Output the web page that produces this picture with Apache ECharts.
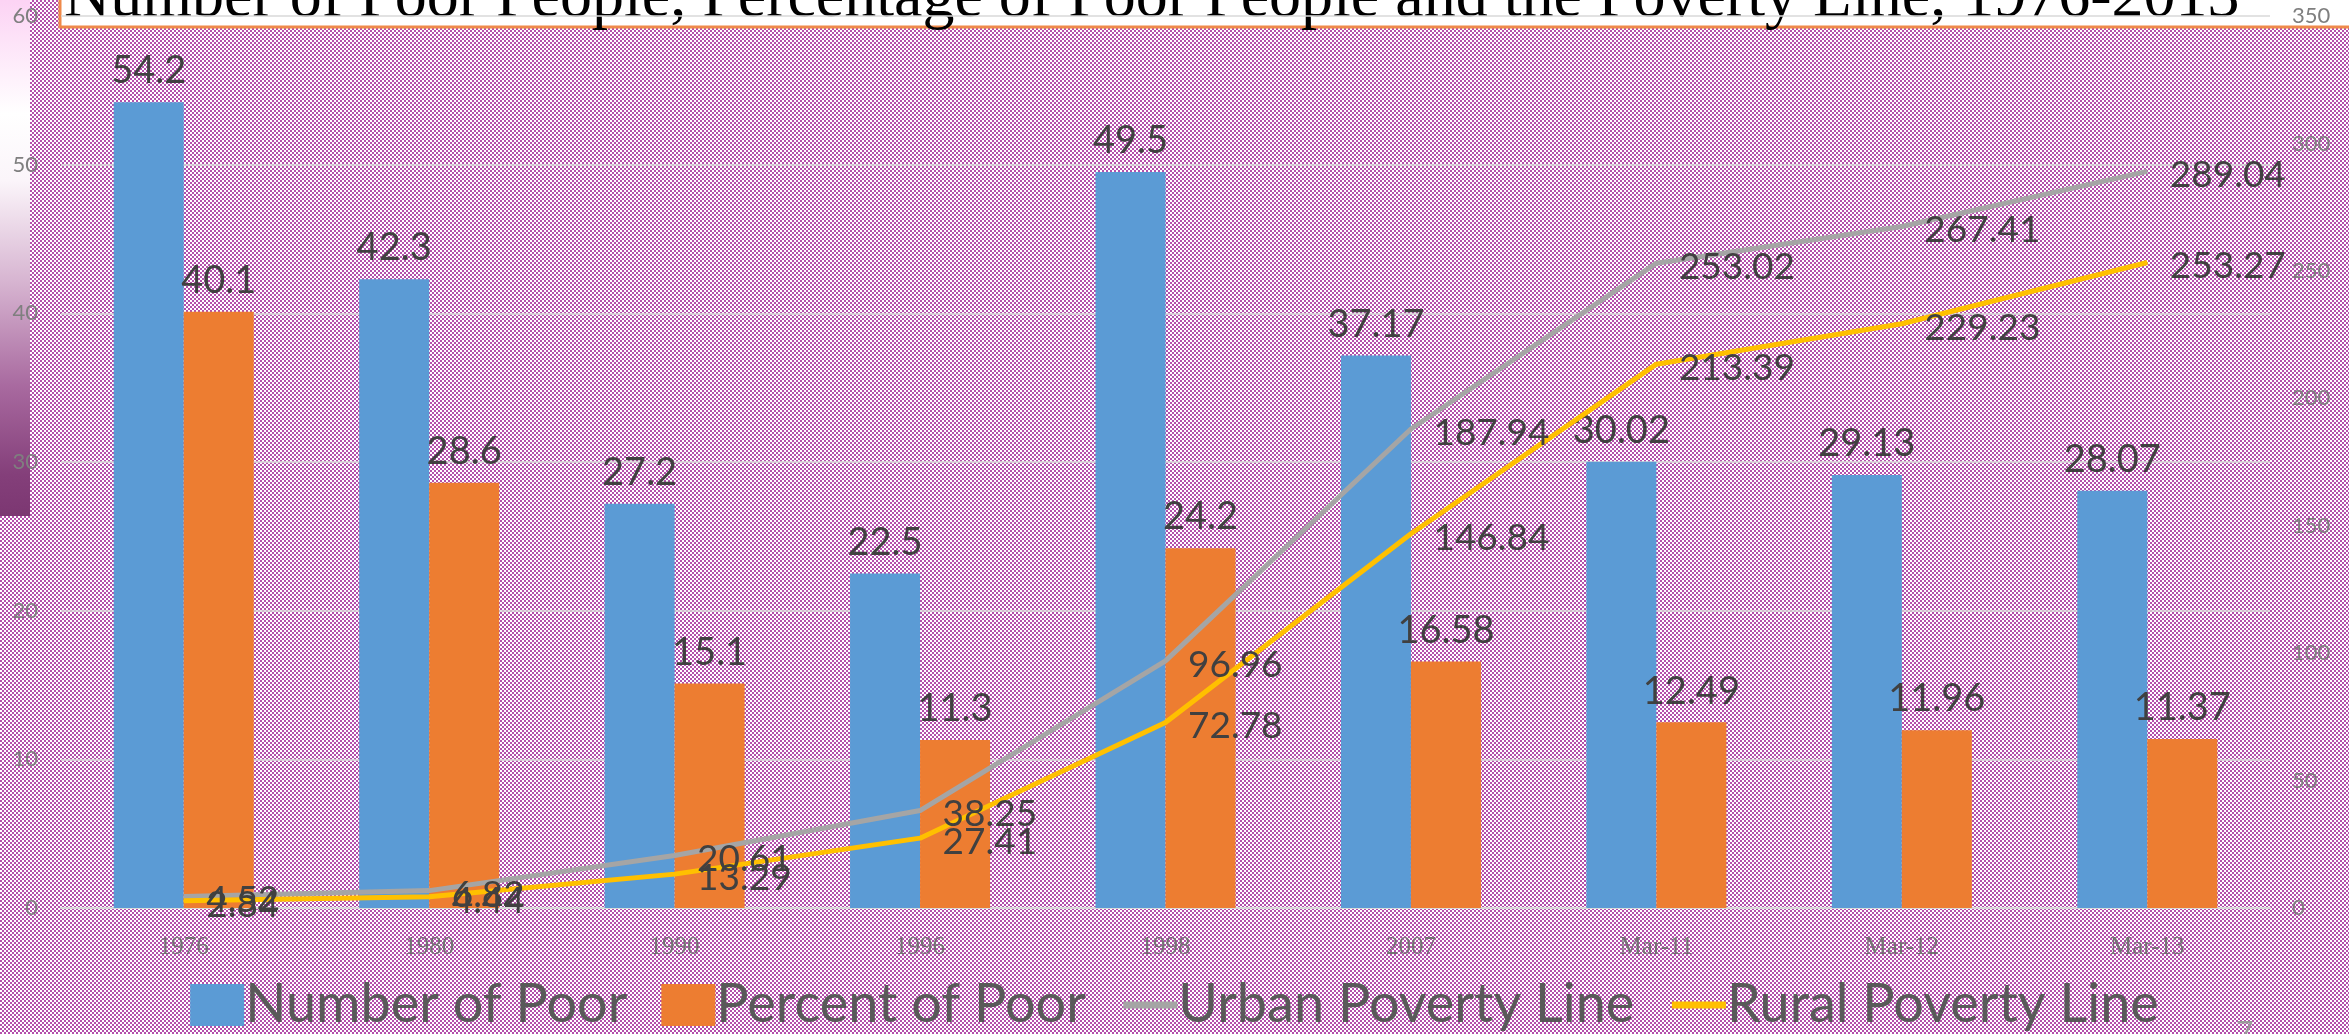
<!DOCTYPE html>
<html><head><meta charset="utf-8">
<script src="https://cdn.jsdelivr.net/npm/echarts@6/dist/echarts.min.js"></script>
<style>html,body{margin:0;padding:0;background:#fff;overflow:hidden}#c{width:2349px;height:1034px}</style>
</head><body><div id="c"></div>
<script>
const categories = ['1976','1980','1990','1996','1998','2007','Mar-11','Mar-12','Mar-13'];
const numberOfPoor = [54.2, 42.3, 27.2, 22.5, 49.5, 37.17, 30.02, 29.13, 28.07];
const percentOfPoor = [40.1, 28.6, 15.1, 11.3, 24.2, 16.58, 12.49, 11.96, 11.37];
const urbanLine = [4.52, 6.82, 20.61, 38.25, 96.96, 187.94, 253.02, 267.41, 289.04];
const ruralLine = [2.84, 4.44, 13.29, 27.41, 72.78, 146.84, 213.39, 229.23, 253.27];
const leftAxis = {min: 0, max: 60, interval: 10};
const rightAxis = {min: 0, max: 350, interval: 50};
const titleText = 'Number of Poor People, Percentage of Poor People and the Poverty Line, 1976-2013';

const cv = document.createElement('canvas');
cv.width = 4; cv.height = 4;
const cx = cv.getContext('2d');
cx.fillStyle = '#ffffff'; cx.fillRect(0,0,4,4);
cx.fillStyle = '#b44fac'; cx.fillRect(0,0,2,2); cx.fillRect(2,2,2,2);

const SANS = 'Lato, "Open Sans", sans-serif';
const chart = echarts.init(document.getElementById('c'), null, {renderer: 'canvas'});
const lblBar = {show: true, position: 'top', distance: 12, fontFamily: SANS, fontSize: 38, color: '#404040'};
const lblLine = {show: true, position: 'right', distance: 22, offset: [0, 4], fontFamily: SANS, fontSize: 37, color: '#404040'};
chart.setOption({
  animation: false,
  backgroundColor: 'transparent',
  graphic: [
    {type: 'rect', z: -20, silent: true, shape: {x: 0, y: 0, width: 2349, height: 1034}, style: {fill: {image: cv, repeat: 'repeat'}}},
    {type: 'rect', z: -15, silent: true, shape: {x: 0, y: 0, width: 30, height: 516},
      style: {fill: new echarts.graphic.LinearGradient(0, 0, 0, 1, [
        {offset: 0, color: '#fcd3f4'}, {offset: 0.22, color: '#ffffff'}, {offset: 0.35, color: '#fbf5fa'},
        {offset: 0.55, color: '#d6b3d0'}, {offset: 0.75, color: '#a8699f'}, {offset: 0.92, color: '#843f7a'}, {offset: 1, color: '#7c3772'}])}},
    {type: 'rect', z: -10, silent: true, shape: {x: 60, y: -30, width: 2400, height: 57}, style: {fill: '#ffffff', stroke: '#ef8a4a', lineWidth: 3}},
    {type: 'text', z: -5, silent: true, x: 64, y: -1, style: {text: titleText, font: '64px "Liberation Serif", "Times New Roman", serif', fill: '#000000', verticalAlign: 'middle', align: 'left'}},
    {type: 'text', z: -5, silent: true, x: 2236, y: 1018, style: {text: '7', font: '30px ' + SANS, fill: '#9a9a9a', verticalAlign: 'top'}}
  ],
  grid: {left: 61, right: 79, top: 16, bottom: 126, containLabel: false},
  legend: {
    bottom: -3, left: 'center', itemWidth: 54, itemHeight: 42, itemGap: 34,
    lineStyle: {width: 7},
    textStyle: {fontFamily: SANS, fontSize: 54, color: '#595959', padding: [0,0,0,-4]},
    data: [
      {name: 'Number of Poor', icon: 'rect'},
      {name: 'Percent of Poor', icon: 'rect'},
      {name: 'Urban Poverty Line', itemStyle: {opacity: 0}, lineStyle: {width: 7}},
      {name: 'Rural Poverty Line', itemStyle: {opacity: 0}, lineStyle: {width: 7}}
    ]
  },
  xAxis: {
    type: 'category', data: categories,
    axisLine: {show: true, lineStyle: {color: '#d9d9d9', width: 2}},
    axisTick: {show: false},
    axisLabel: {margin: 27, fontFamily: '"Liberation Serif", serif', fontSize: 25, color: '#737373'}
  },
  yAxis: [
    {type: 'value', min: leftAxis.min, max: leftAxis.max, interval: leftAxis.interval,
      axisLine: {show: false}, axisTick: {show: false},
      axisLabel: {margin: 23, fontFamily: SANS, fontSize: 22, color: '#7f7f7f'},
      splitLine: {show: true, lineStyle: {color: '#d9d9d9', width: 1.5}}},
    {type: 'value', min: rightAxis.min, max: rightAxis.max, interval: rightAxis.interval,
      axisLine: {show: false}, axisTick: {show: false},
      axisLabel: {margin: 22, fontFamily: SANS, fontSize: 22, color: '#7f7f7f'},
      splitLine: {show: false}}
  ],
  series: [
    {name: 'Number of Poor', type: 'bar', yAxisIndex: 0, data: numberOfPoor, barWidth: 70, barGap: '0%',
      itemStyle: {color: '#5b9bd5'}, label: lblBar},
    {name: 'Percent of Poor', type: 'bar', yAxisIndex: 0, data: percentOfPoor, barWidth: 70,
      itemStyle: {color: '#ed7d31'}, label: lblBar},
    {name: 'Urban Poverty Line', type: 'line', yAxisIndex: 1, data: urbanLine, symbol: 'circle', symbolSize: 1, showSymbol: true,
      lineStyle: {color: '#a5a5a5', width: 5}, itemStyle: {color: '#a5a5a5'}, label: lblLine, z: 4},
    {name: 'Rural Poverty Line', type: 'line', yAxisIndex: 1, data: ruralLine, symbol: 'circle', symbolSize: 1, showSymbol: true,
      lineStyle: {color: '#ffc000', width: 5}, itemStyle: {color: '#ffc000'}, label: lblLine, z: 4}
  ]
});
</script></body></html>
